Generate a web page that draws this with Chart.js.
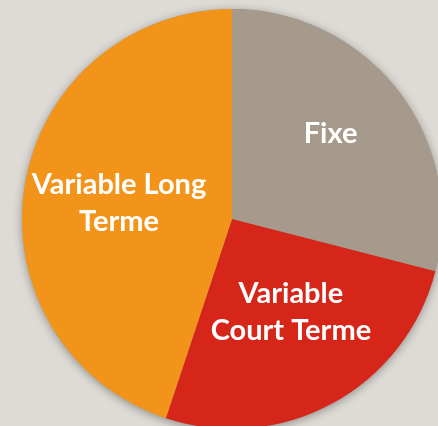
<!DOCTYPE html>
<html>
<head>
<meta charset="utf-8">
<script src="https://cdn.jsdelivr.net/npm/chart.js@4.4.0/dist/chart.umd.min.js"></script>
<style>
  html, body { margin: 0; padding: 0; background: #dedbd6; overflow: hidden; width: 438px; height: 426px; }
  #wrap { position: absolute; left: 2px; top: -11px; width: 460px; height: 460px; }
</style>
</head>
<body>
<div id="wrap"><canvas id="pieChart"></canvas></div>
<script>
const categories = ['Fixe', 'Variable Court Terme', 'Variable Long Terme'];
const labelLines = [['Fixe'], ['Variable', 'Court Terme'], ['Variable Long', 'Terme']];
const shares = [29, 26.1, 44.9];
const colors = ['#a59a8b', '#d62519', '#f3941a'];

// soft shadow behind the whole pie
const pieShadow = {
  id: 'pieShadow',
  beforeDatasetsDraw(chart) {
    const arc = chart.getDatasetMeta(0).data[0];
    const ctx = chart.ctx;
    ctx.save();
    ctx.shadowColor = 'rgba(0,0,0,0.35)';
    ctx.shadowBlur = 10;
    ctx.shadowOffsetY = 2;
    ctx.fillStyle = '#a59a8b';
    ctx.beginPath();
    ctx.arc(arc.x, arc.y, arc.outerRadius, 0, Math.PI * 2);
    ctx.fill();
    ctx.restore();
  }
};

// white labels inside the slices
const sliceLabels = {
  id: 'sliceLabels',
  afterDatasetsDraw(chart, args, opts) {
    const ctx = chart.ctx;
    chart.getDatasetMeta(0).data.forEach((arc, i) => {
      const mid = (arc.startAngle + arc.endAngle) / 2 + opts.shift[i] * Math.PI / 180;
      const r = arc.outerRadius * opts.dist[i];
      const x = arc.x + Math.cos(mid) * r;
      const y = arc.y + Math.sin(mid) * r;
      const lines = labelLines[i];
      ctx.save();
      ctx.fillStyle = '#ffffff';
      ctx.font = 'bold 29px Lato';
      ctx.textAlign = 'center';
      ctx.textBaseline = 'middle';
      lines.forEach((t, j) => {
        ctx.fillText(t, x, y + (j - (lines.length - 1) / 2) * 37);
      });
      ctx.restore();
    });
  }
};

new Chart(document.getElementById('pieChart'), {
  type: 'pie',
  data: {
    labels: categories,
    datasets: [{
      data: shares,
      backgroundColor: colors,
      borderWidth: 0
    }]
  },
  options: {
    responsive: true,
    maintainAspectRatio: false,
    animation: false,
    layout: { padding: 20 },
    plugins: {
      legend: { display: false },
      tooltip: { enabled: false },
      sliceLabels: { dist: [0.62, 0.526, 0.543], shift: [-3, -3.6, -1.4] }
    }
  },
  plugins: [pieShadow, sliceLabels]
});
</script>
</body>
</html>
